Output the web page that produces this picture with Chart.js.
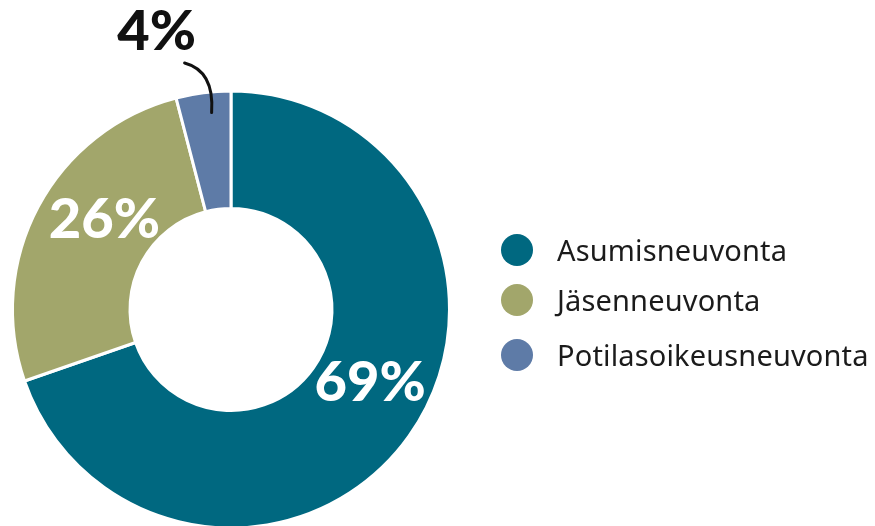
<!DOCTYPE html>
<html><head><meta charset="utf-8">
<script src="https://cdn.jsdelivr.net/npm/chart.js@4/dist/chart.umd.min.js"></script>
<style>
html,body{margin:0;padding:0;background:#fff;overflow:hidden;}
#wrap{position:relative;width:875px;height:526px;overflow:hidden;}
canvas{position:absolute;left:0;top:0;}
.pct{position:absolute;font-family:Lato,"Noto Sans",sans-serif;font-weight:900;font-size:56px;line-height:1;transform:translate(-50%,-50%);white-space:nowrap;}
.leg{position:absolute;left:500px;font-family:"Noto Sans",sans-serif;font-size:29px;letter-spacing:0.15px;color:#1b1b1b;line-height:1;white-space:nowrap;}
.leg .dot{position:absolute;left:1px;top:50%;width:32px;height:32px;border-radius:50%;transform:translateY(-50%);}
.leg .txt{position:absolute;left:57px;top:50%;transform:translateY(-52%);}
</style></head>
<body><div id="wrap"><canvas id="c" width="875" height="540"></canvas></div>
<script>
const categories = ["Asumisneuvonta", "Jäsenneuvonta", "Potilasoikeusneuvonta"];
const values = [69, 26, 4];
const percentLabels = ["69%", "26%", "4%"];
const colors = ["#006880", "#A2A66B", "#5E7BA7"];
const legendRowY = [250, 300, 355];

const wrap = document.getElementById('wrap');
// legend
categories.forEach((c, i) => {
  const d = document.createElement('div');
  d.className = 'leg';
  d.style.top = legendRowY[i] + 'px';
  d.innerHTML = '<span class="dot" style="background:' + colors[i] + '"></span><span class="txt">' + c + '</span>';
  wrap.appendChild(d);
});
// percentage labels placed relative to arcs
const labelPlace = [
  {angOff: -8, dy: -2, color: '#fff'},
  {angOff: 8, dy: 0, color: '#fff'},
  {outside: true, color: '#111'}
];
const pctEls = percentLabels.map((t, i) => {
  const e = document.createElement('div');
  e.className = 'pct';
  e.textContent = t;
  e.style.color = labelPlace[i].color;
  wrap.appendChild(e);
  return e;
});

const labelPlugin = {
  id: 'labels',
  afterDraw(chart) {
    const meta = chart.getDatasetMeta(0);
    const ctx = chart.ctx;
    meta.data.forEach((arc, i) => {
      const p = arc.getProps(['x','y','startAngle','endAngle','innerRadius','outerRadius'], true);
      const mid = (p.startAngle + p.endAngle) / 2;
      const lp = labelPlace[i];
      if (!lp.outside) {
        const a = mid + lp.angOff * Math.PI / 180;
        const rr = (p.innerRadius + p.outerRadius) / 2 - 3;
        const x = p.x + Math.cos(a) * rr;
        const y = p.y + Math.sin(a) * rr + lp.dy;
        pctEls[i].style.left = x + 'px';
        pctEls[i].style.top = y + 'px';
      } else {
        // label above the slice with a curved leader
        const ex = p.x + Math.cos(mid) * (p.outerRadius - 18);
        const ey = p.y + Math.sin(mid) * (p.outerRadius - 18);
        const lx = ex - 52, ly = p.y - p.outerRadius - 56;
        pctEls[i].style.left = (lx + 3) + 'px';
        pctEls[i].style.top = (ly - 6) + 'px';
        const sx = lx + 31, sy = ly + 28;
        ctx.save();
        ctx.strokeStyle = '#111';
        ctx.lineWidth = 3;
        ctx.lineCap = 'round';
        ctx.beginPath();
        ctx.moveTo(sx, sy);
        ctx.quadraticCurveTo(ex + 9, sy + 8, ex + 6, ey + 2);
        ctx.stroke();
        ctx.restore();
      }
    });
  }
};

new Chart(document.getElementById('c'), {
  type: 'doughnut',
  data: {
    labels: categories,
    datasets: [{
      data: values,
      backgroundColor: colors,
      borderColor: '#ffffff',
      borderWidth: 3,
      hoverOffset: 0
    }]
  },
  options: {
    responsive: false,
    animation: false,
    cutout: 101,
    layout: {padding: {left: 11, top: 89, right: 424, bottom: 10}},
    plugins: {legend: {display: false}, tooltip: {enabled: false}}
  },
  plugins: [labelPlugin]
});
</script></body></html>
